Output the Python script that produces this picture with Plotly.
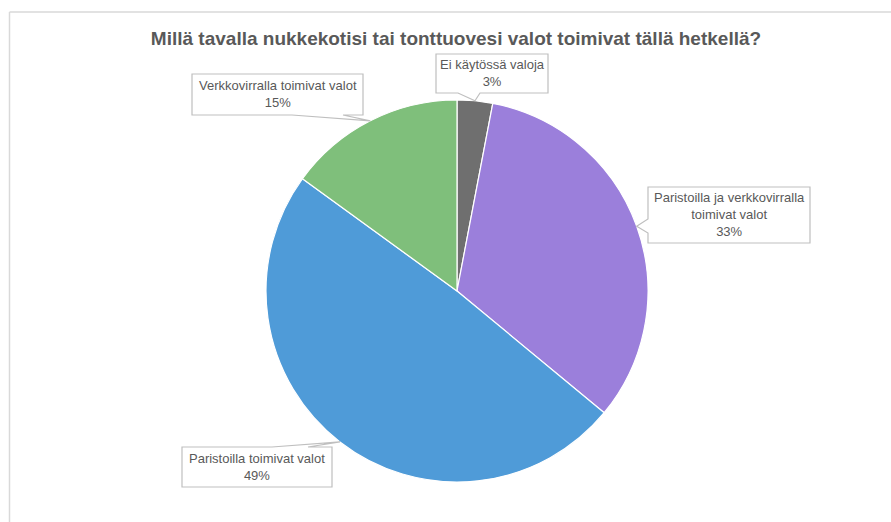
import math
import plotly.graph_objects as go

W, H = 891, 522

categories = ["Ei käytössä valoja", "Paristoilla ja verkkovirralla<br>toimivat valot",
              "Paristoilla toimivat valot", "Verkkovirralla toimivat valot"]
values = [3, 33, 49, 15]
colors = ["#6F6F6F", "#9B7FDB", "#4F9BD8", "#7FBF7B"]
title = "Millä tavalla nukkekotisi tai tonttuovesi valot toimivat tällä hetkellä?"

# Pie placement (pixels)
CX, CY, R = 457, 291, 191

# Callout box layout in pixels: (left, top, right, bottom), wedge edge and base
boxes = [
    (436, 54, 548, 93, "bottom", (458, 480)),
    (648, 187, 810, 243, "left", (219, 233)),
    (182, 447, 332, 487, "top", (272, 308)),
    (192, 74, 363, 115, "bottom", (292, 343)),
]

def px(x):
    return x / W

def py(y):
    return 1 - y / H

fig = go.Figure()
fig.add_trace(go.Pie(
    labels=[c.replace("<br>", " ") for c in categories],
    values=values,
    sort=False,
    direction="clockwise",
    rotation=0,
    marker=dict(colors=colors, line=dict(color="white", width=1.2)),
    textinfo="none",
    hoverinfo="label+percent",
    showlegend=False,
    domain=dict(x=[px(CX - R), px(CX + R)], y=[py(CY + R), py(CY - R)]),
))

shapes = []
annotations = []
total = sum(values)
cum = 0
for cat, v, (l, t, r, b, edge, base) in zip(categories, values, boxes):
    mid = (cum + v / 2) / total * 2 * math.pi
    cum += v
    tx = CX + R * math.sin(mid)
    ty = CY - R * math.cos(mid)
    if edge == "bottom":
        pts = [(l, t), (r, t), (r, b), (base[1], b), (tx, ty), (base[0], b), (l, b)]
    elif edge == "top":
        pts = [(l, t), (base[0], t), (tx, ty), (base[1], t), (r, t), (r, b), (l, b)]
    else:  # left
        pts = [(l, t), (r, t), (r, b), (l, b), (l, base[1]), (tx, ty), (l, base[0])]
    path = "M " + " L ".join(f"{px(x):.5f},{py(y):.5f}" for x, y in pts) + " Z"
    shapes.append(dict(type="path", xref="paper", yref="paper", path=path,
                       fillcolor="white", line=dict(color="#BFBFBF", width=1.2)))
    pct = round(v / total * 100)
    annotations.append(dict(
        x=px((l + r) / 2), y=py((t + b) / 2), xref="paper", yref="paper",
        xanchor="center", yanchor="middle", showarrow=False,
        text=f"{cat}<br>{pct}%", align="center",
        font=dict(family="Liberation Sans", size=13, color="#595959"),
    ))

# chart area border (top and left visible)
shapes.append(dict(type="line", xref="paper", yref="paper", x0=px(9.5), x1=1, y0=py(12), y1=py(12),
                   line=dict(color="#D9D9D9", width=1.5)))
shapes.append(dict(type="line", xref="paper", yref="paper", x0=px(9.5), x1=px(9.5), y0=py(12), y1=0,
                   line=dict(color="#D9D9D9", width=1.5)))

fig.update_layout(
    width=W, height=H,
    margin=dict(l=0, r=0, t=0, b=0),
    paper_bgcolor="white", plot_bgcolor="white",
    title=dict(text=f"<b>{title}</b>", x=px(456), y=py(38), xanchor="center", yanchor="middle",
               font=dict(family="Liberation Sans", size=19, color="#595959")),
    shapes=shapes,
    annotations=annotations,
)

fig.write_html("out.html", config={"displayModeBar": False},
               post_script="document.body.style.margin='0';document.body.style.overflow='hidden';")
